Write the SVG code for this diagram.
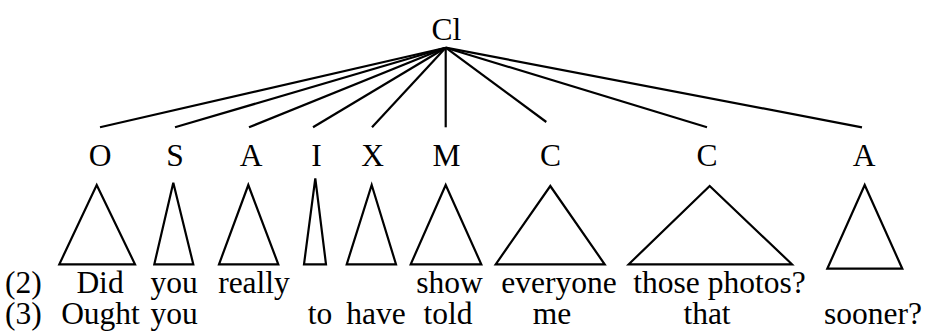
<svg xmlns="http://www.w3.org/2000/svg" width="926" height="332" viewBox="0 0 926 332" font-family="'Liberation Serif', 'Times New Roman', Times, serif">
  <style>
    text { font-family: 'Liberation Serif', 'Times New Roman', Times, serif; font-size: 31.5px; fill: #000; text-anchor: middle; }
    .edge { stroke: #000; stroke-width: 2.2; fill: none; }
    .tri { stroke: #000; stroke-width: 2.2; fill: none; stroke-linejoin: miter; }
    .num { text-anchor: start; }
  </style>
  <rect width="926" height="332" fill="#fff"/>

  <!-- branches from the clause node -->
  <g id="connectors">
    <line class="edge" x1="445.7" y1="47.7" x2="100" y2="127.3"/>
    <line class="edge" x1="445.7" y1="47.7" x2="175" y2="127.3"/>
    <line class="edge" x1="445.7" y1="47.7" x2="249" y2="127.3"/>
    <line class="edge" x1="445.7" y1="47.7" x2="313" y2="127.3"/>
    <line class="edge" x1="445.7" y1="47.7" x2="372" y2="127.3"/>
    <line class="edge" x1="445.7" y1="47.7" x2="445.7" y2="127.3"/>
    <line class="edge" x1="445.7" y1="47.7" x2="546.3" y2="122"/>
    <line class="edge" x1="445.7" y1="47.7" x2="707" y2="127.3"/>
    <line class="edge" x1="445.7" y1="47.7" x2="862" y2="127.3"/>
  </g>

  <g id="node-cl"><text x="446.5" y="40">Cl</text></g>

  <g id="node-o"><text x="100" y="166">O</text><polygon class="tri" points="96.7,185 135,264.3 59.3,264.3"/></g>
  <g id="node-s"><text x="175" y="166">S</text><polygon class="tri" points="173.3,182.7 193.3,264.3 154.3,264.3"/></g>
  <g id="node-a1"><text x="251" y="166">A</text><polygon class="tri" points="248.3,185 278.3,264.3 219,264.3"/></g>
  <g id="node-i"><text x="316.5" y="166">I</text><polygon class="tri" points="315.3,178.3 326,264.3 304,264.3"/></g>
  <g id="node-x"><text x="372.5" y="166">X</text><polygon class="tri" points="371.7,185 396,264.3 346.7,264.3"/></g>
  <g id="node-m"><text x="446.5" y="166">M</text><polygon class="tri" points="445.7,185 481.3,264.3 410.7,264.3"/></g>
  <g id="node-c1"><text x="550.5" y="166">C</text><polygon class="tri" points="550.3,186 604.7,264.3 495.7,264.3"/></g>
  <g id="node-c2"><text x="707" y="166">C</text><polygon class="tri" points="709.7,186 792,264.3 628.7,264.3"/></g>
  <g id="node-a2"><text x="864" y="166">A</text><polygon class="tri" points="864.7,185 902.3,268.7 827.3,268.7"/></g>

  <!-- example sentence (2) -->
  <g id="row-2">
    <text class="num" x="5" y="292.7">(2)</text>
    <text x="100" y="292.7">Did</text>
    <text x="174" y="292.7">you</text>
    <text x="254" y="292.7">really</text>
    <text x="449.5" y="292.7">show</text>
    <text x="559" y="292.7">everyone</text>
    <text x="719.5" y="292.7">those photos?</text>
  </g>

  <!-- example sentence (3) -->
  <g id="row-3">
    <text class="num" x="5" y="324">(3)</text>
    <text x="100.5" y="324">Ought</text>
    <text x="174" y="324">you</text>
    <text x="320" y="324">to</text>
    <text x="376" y="324">have</text>
    <text x="448" y="324">told</text>
    <text x="552" y="324">me</text>
    <text x="707" y="324">that</text>
    <text x="873" y="324">sooner?</text>
  </g>
</svg>
